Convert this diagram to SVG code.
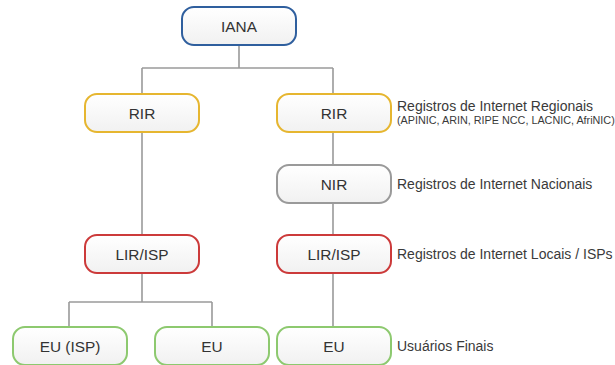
<svg xmlns="http://www.w3.org/2000/svg" width="615" height="365" viewBox="0 0 615 365">
<defs>
<linearGradient id="fill" x1="0" y1="0" x2="0" y2="1">
<stop offset="0" stop-color="#ffffff"/>
<stop offset="1" stop-color="#f1f1f1"/>
</linearGradient>
<style>
.box{fill:url(#fill);stroke-width:2}
.iana{stroke:#2f5f9e}
.rir{stroke:#e6b630}
.nir{stroke:#9a9a9a}
.lir{stroke:#cc3a3a}
.eu{stroke:#8dc96f}
.t{font-family:"Liberation Sans",Arial,sans-serif;font-size:15.4px;fill:#333;text-anchor:middle}
.lbl{font-family:"Liberation Sans",Arial,sans-serif;font-size:14px;fill:#3a3a3a}
.sm{font-size:10.8px}
.con{fill:none;stroke:#9a9a9a;stroke-width:1.6}
</style>
</defs>
<rect width="615" height="365" fill="#ffffff"/>
<g id="connectors">
<path class="con" d="M239 45 V68 M142 68 H333 M142 68 V94 M333 68 V94"/>
<path class="con" d="M142 132 V235"/>
<path class="con" d="M333 132 V165 M333 203 V235 M333 273 V327"/>
<path class="con" d="M142 273 V302 M69 302 H212 M69 302 V327 M212 302 V327"/>
</g>
<g id="iana"><rect class="box iana" x="182" y="7" width="114" height="38" rx="12"/><text class="t" x="239" y="31.5">IANA</text></g>
<g id="rir-left"><rect class="box rir" x="85" y="94" width="114" height="38" rx="12"/><text class="t" x="142" y="118.5">RIR</text></g>
<g id="rir-right"><rect class="box rir" x="277" y="94" width="114" height="38" rx="12"/><text class="t" x="334" y="118.5">RIR</text></g>
<g id="nir"><rect class="box nir" x="277" y="165" width="114" height="38" rx="12"/><text class="t" x="334" y="189.5">NIR</text></g>
<g id="lir-left"><rect class="box lir" x="85" y="235" width="114" height="38" rx="12"/><text class="t" x="142" y="259.5">LIR/ISP</text></g>
<g id="lir-right"><rect class="box lir" x="277" y="235" width="114" height="38" rx="12"/><text class="t" x="334" y="259.5">LIR/ISP</text></g>
<g id="eu-isp"><rect class="box eu" x="13" y="327" width="114" height="38" rx="12"/><text class="t" x="70" y="352">EU (ISP)</text></g>
<g id="eu-mid"><rect class="box eu" x="155" y="327" width="114" height="38" rx="12"/><text class="t" x="212" y="352">EU</text></g>
<g id="eu-right"><rect class="box eu" x="277" y="327" width="114" height="38" rx="12"/><text class="t" x="334" y="352">EU</text></g>
<g id="labels">
<text class="lbl" x="397" y="111">Registros de Internet Regionais</text>
<text class="lbl sm" x="397" y="124">(APINIC, ARIN, RIPE NCC, LACNIC, AfriNIC)</text>
<text class="lbl" x="397" y="189">Registros de Internet Nacionais</text>
<text class="lbl" x="397" y="259">Registros de Internet Locais / ISPs</text>
<text class="lbl" x="397" y="351">Usuários Finais</text>
</g>
</svg>
